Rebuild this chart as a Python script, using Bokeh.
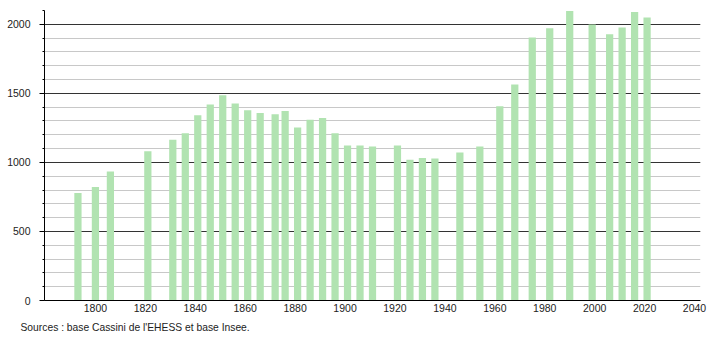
from bokeh.plotting import figure
from bokeh.models import SingleIntervalTicker, FixedTicker, Range1d, Title, ColumnDataSource
from bokeh.embed import file_html
from bokeh.resources import INLINE

years = [1793, 1800, 1806, 1821, 1831, 1836, 1841, 1846, 1851, 1856, 1861, 1866,
         1872, 1876, 1881, 1886, 1891, 1896, 1901, 1906, 1911, 1921, 1926, 1931,
         1936, 1946, 1954, 1962, 1968, 1975, 1982, 1990, 1999, 2006, 2011, 2016, 2021]
population = [778, 821, 935, 1080, 1164, 1212, 1341, 1420, 1486, 1427, 1377, 1357,
              1348, 1372, 1252, 1309, 1321, 1212, 1123, 1123, 1116, 1123, 1020, 1031,
              1029, 1072, 1116, 1406, 1565, 1904, 1971, 2096, 1998, 1928, 1976, 2089, 2049]
x_ticks = [1800, 1820, 1840, 1860, 1880, 1900, 1920, 1940, 1960, 1980, 2000, 2020, 2040]
source_text = "Sources : base Cassini de l'EHESS et base Insee."

FONT = "Liberation Sans"

p = figure(width=710, height=340, output_backend="svg", toolbar_location=None,
           x_range=Range1d(1779.6, 2042.4), y_range=Range1d(0, 2100),
           min_border_left=44, min_border_right=10, min_border_top=10, min_border_bottom=40)
p.outline_line_color = None
p.background_fill_color = "white"
p.border_fill_color = "white"

src = ColumnDataSource(dict(x=years, top=population))
p.vbar(x="x", top="top", width=2.9, bottom=0, source=src, fill_color="#b1e3b1", line_color=None)

# y axis
p.yaxis.ticker = SingleIntervalTicker(interval=500, num_minor_ticks=5)
p.yaxis.major_label_text_font = FONT
p.yaxis.major_label_text_font_size = "10.5px"
p.yaxis.major_label_text_color = "#222222"
p.yaxis.major_tick_out = 5
p.yaxis.major_tick_in = 0
p.yaxis.minor_tick_out = 2
p.yaxis.minor_tick_in = 0
p.yaxis.axis_line_color = "black"
p.yaxis.major_tick_line_color = "black"
p.yaxis.minor_tick_line_color = "black"
p.yaxis.major_label_standoff = 9

# x axis
p.xaxis.ticker = FixedTicker(ticks=x_ticks)
p.xaxis.major_label_text_font = FONT
p.xaxis.major_label_text_font_size = "10.5px"
p.xaxis.major_label_text_color = "#222222"
p.xaxis.major_tick_line_color = None
p.xaxis.minor_tick_line_color = None
p.xaxis.axis_line_color = "black"
p.xaxis.major_label_standoff = -3

# grids
p.xgrid.grid_line_color = None
p.ygrid.ticker = SingleIntervalTicker(interval=500, num_minor_ticks=5)
p.ygrid.grid_line_color = "#333333"
p.ygrid.grid_line_width = 1
p.ygrid.minor_grid_line_color = "#c8c8c8"
p.ygrid.minor_grid_line_width = 1

t = Title(text=source_text, align="left", text_font=FONT, text_font_size="10.3px",
          text_font_style="normal", text_color="#222222", offset=-24, standoff=11)
p.add_layout(t, "below")

open("out.html", "w").write(file_html(p, INLINE))
